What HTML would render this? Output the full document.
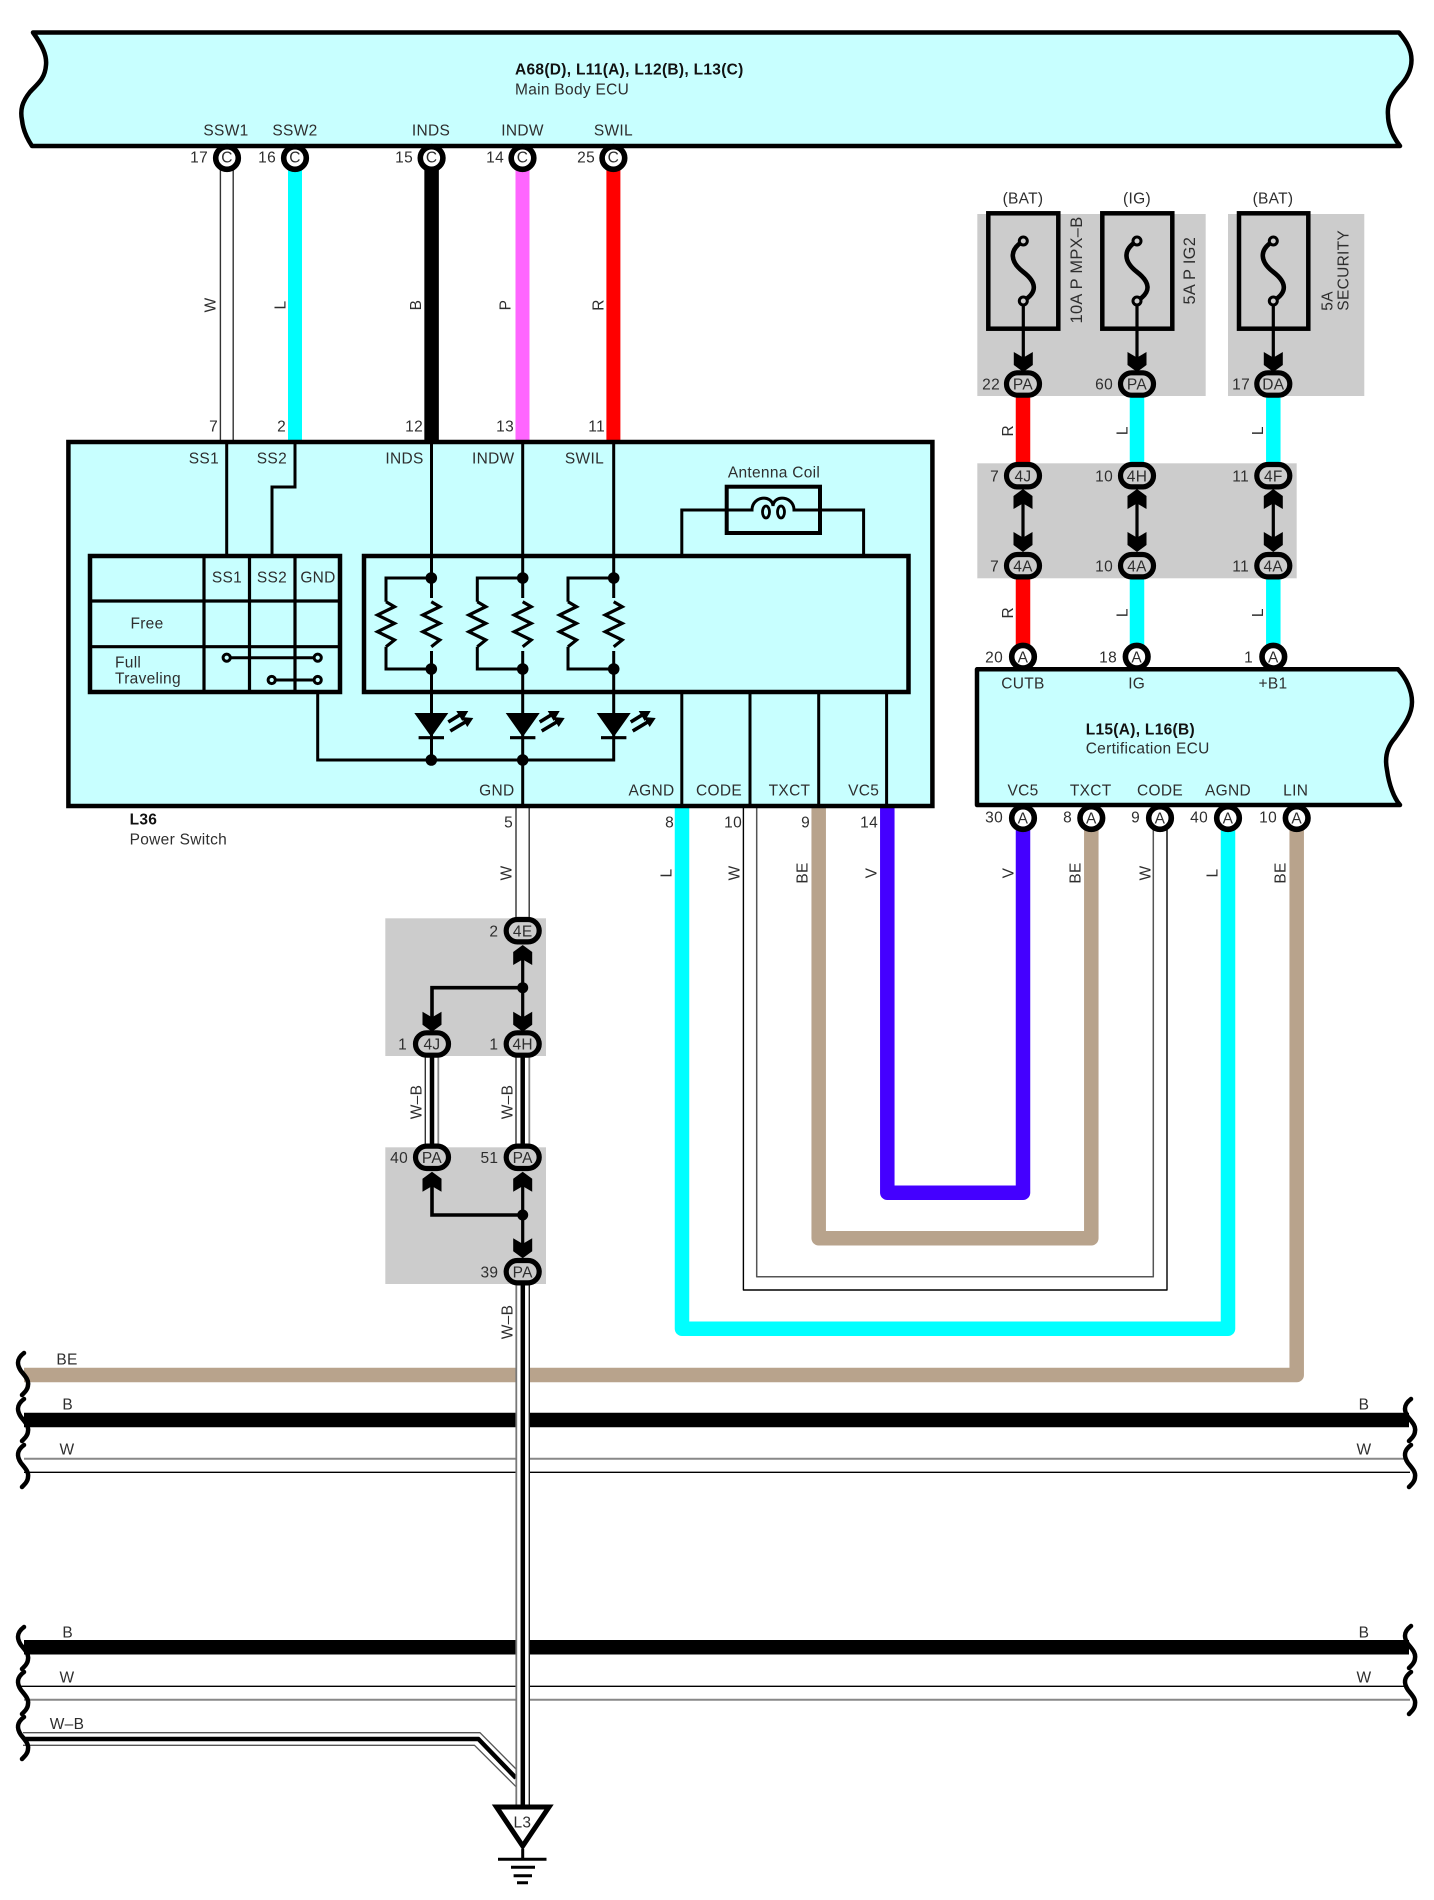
<!DOCTYPE html>
<html><head><meta charset="utf-8"><title>Wiring diagram</title>
<style>
html,body{margin:0;padding:0;background:#fff}
svg{display:block}
text{font-family:"Liberation Sans",sans-serif;font-size:15.5px;letter-spacing:.3px;fill:#2e2e2e;dominant-baseline:central}
text:not([transform]){transform:translateY(1.1px)}
.e{text-anchor:end}.m{text-anchor:middle}.b{font-weight:bold;fill:#111}
.f{font-size:16.4px}
.w{fill:none;stroke-linejoin:round;stroke-linecap:butt}
.k{fill:none;stroke:#000;stroke-width:3;stroke-linejoin:miter}
.t{fill:none;stroke:#000;stroke-width:4.5}
.c{fill:#fff;stroke:#000;stroke-width:5.6}
.o{fill:#ccc;stroke:#000;stroke-width:5.2}
</style></head><body>
<svg width="1434" height="1900" viewBox="0 0 1434 1900" xmlns="http://www.w3.org/2000/svg">
<defs>
<polygon id="ad" points="0,0 9.5,-7 9.5,-20 1,-15 -1,-15 -9.5,-20 -9.5,-7" fill="#000"/>
<polygon id="au" points="0,0 9.5,7 9.5,20 1,15 -1,15 -9.5,20 -9.5,7" fill="#000"/>
<path id="sq" d="M23 0C15 6 16 12 20 18C24 23 28 27 27 32C27 36 24 39 21 42" fill="none" stroke="#000" stroke-width="4.5" stroke-linecap="round"/>
<polyline id="rz" points="0,0 8.5,5 -8.5,13.3 8.5,21.7 -8.5,30 8.5,38.3 0,45" fill="none" stroke="#000" stroke-width="3.2" stroke-linejoin="miter"/>
<g id="led">
<polygon points="-17,0 17,0 0,24" fill="#000"/>
<path d="M-12.7 24.7H12.7" stroke="#000" stroke-width="3.2"/>
<path d="M17 9L30 1M19 18L34 9" stroke="#000" stroke-width="3.6"/>
<polygon points="37,-2 25,-2 31,8" fill="#000"/>
<polygon points="42,5 30,4 36,14" fill="#000"/>
</g>
<path id="fz" d="M0 0C-15 9 -13 21 0 31C13 41 15 51 0 60" fill="none" stroke="#000" stroke-width="4.6"/>
</defs>
<rect width="1434" height="1900" fill="#fff"/>

<!-- gray zones -->
<g fill="#ccc">
<rect x="977.3" y="214" width="228.4" height="182"/>
<rect x="1228" y="214" width="136.3" height="182"/>
<rect x="977.3" y="463.3" width="319.4" height="115"/>
<rect x="385.3" y="918.3" width="160.7" height="137.7"/>
<rect x="385.3" y="1147.3" width="160.7" height="136.7"/>
</g>

<!-- top wires -->
<g class="w">
<path d="M220.4 170V441M233.2 170V441" stroke="#333" stroke-width="1.4"/>
<path d="M295 170V441" stroke="#00ffff" stroke-width="14"/>
<path d="M431.6 170V441" stroke="#000" stroke-width="14.5" stroke-linecap="round"/>
<path d="M522.5 170V441" stroke="#ff66ff" stroke-width="14"/>
<path d="M613.4 170V441" stroke="#ff0000" stroke-width="14"/>
<path d="M1023 396V464M1023 578V645" stroke="#ff0000" stroke-width="14.5"/>
<path d="M1137 396V464M1137 578V645M1273.3 396V464M1273.3 578V645" stroke="#00ffff" stroke-width="14.5"/>
</g>

<!-- buses -->
<g class="w">
<path d="M24 1420H1409" stroke="#000" stroke-width="14.5"/>
<path d="M24 1458.7H1406" stroke="#888" stroke-width="2"/>
<path d="M24 1472.3H1410" stroke="#000" stroke-width="1.4"/>
<path d="M24 1647.3H1409" stroke="#000" stroke-width="14.5"/>
<path d="M20 1686.3H1406" stroke="#000" stroke-width="1.4"/>
<path d="M24 1699.7H1410" stroke="#888" stroke-width="2"/>
<path d="M23 1732.7H480L516 1769" stroke="#555" stroke-width="1.3"/>
<path d="M23 1739H478.4L516 1778" stroke="#000" stroke-width="4.5"/>
<path d="M23 1745.3H474.5L516 1786.7" stroke="#555" stroke-width="1.3"/>
</g>

<!-- lower harness -->
<g class="w">
<path d="M682 806V1328.7H1228V830" stroke="#00ffff" stroke-width="14.5"/>
<path d="M743.4 806V1290H1167V830" stroke="#000" stroke-width="1.4"/>
<path d="M756.7 806V1276.7H1153.3V830" stroke="#555" stroke-width="1.5"/>
<path d="M818.7 806V1238.3H1091.3V830" stroke="#b8a38c" stroke-width="14.5"/>
<path d="M887.3 806V1192.7H1023V830" stroke="#4400ff" stroke-width="14.5"/>
<path d="M1296.7 830V1375H24" stroke="#b8a38c" stroke-width="14.5"/>
</g>

<!-- trunk -->
<rect x="516.3" y="806" width="13" height="113" fill="#fff"/>
<path d="M516 806V920M529.2 806V920" stroke="#333" stroke-width="1.4"/>
<rect x="516.3" y="1285" width="13" height="522" fill="#fff"/>
<path d="M516.3 1285V1807" stroke="#777" stroke-width="1.8"/>
<path d="M529.3 1285V1807" stroke="#222" stroke-width="1.4"/>
<path d="M522.8 1285V1807" stroke="#000" stroke-width="4.5"/>
<g class="w">
<path d="M425.3 1056V1147M516 1056V1147" stroke="#333" stroke-width="1.4"/>
<path d="M438.3 1056V1147M529.3 1056V1147" stroke="#888" stroke-width="1.8"/>
<path d="M432 1056V1147M522.7 1056V1147" stroke="#000" stroke-width="4.5"/>
</g>

<!-- banner -->
<path d="M33 32.5H1399C1407 42 1411.5 50 1411.5 60C1411.5 72 1404 82 1398 88C1391 96 1387 105 1388 115C1388 127 1394 138 1400 146H32C28 140 23 130 22 120C20 110 22 102 30 92C36 85 45 80 46 65C47 55 42 45 33 32.5Z" fill="#c8ffff" stroke="#000" stroke-width="4.5" stroke-linejoin="round"/>
<text class="b" x="515" y="69">A68(D), L11(A), L12(B), L13(C)</text>
<text x="515" y="89">Main Body ECU</text>
<text class="m" x="226" y="130">SSW1</text>
<text class="m" x="295" y="130">SSW2</text>
<text class="m" x="431" y="130">INDS</text>
<text class="m" x="522.5" y="130">INDW</text>
<text class="m" x="613.4" y="130">SWIL</text>

<!-- top connectors -->
<circle class="c" cx="227" cy="158" r="11.3"/>
<circle class="c" cx="295" cy="158" r="11.3"/>
<circle class="c" cx="431.6" cy="158" r="11.3"/>
<circle class="c" cx="522.5" cy="158" r="11.3"/>
<circle class="c" cx="613.4" cy="158" r="11.3"/>
<text class="m" x="227" y="157">C</text><text class="m" x="295" y="157">C</text><text class="m" x="431.6" y="157">C</text><text class="m" x="522.5" y="157">C</text><text class="m" x="613.4" y="157">C</text>
<text class="e" x="208" y="157">17</text><text class="e" x="276" y="157">16</text><text class="e" x="413" y="157">15</text><text class="e" x="504" y="157">14</text><text class="e" x="595" y="157">25</text>
<text class="e" x="218" y="426">7</text><text class="e" x="286" y="426">2</text><text class="e" x="423" y="426">12</text><text class="e" x="514" y="426">13</text><text class="e" x="605" y="426">11</text>
<text class="m" dy="1.2" transform="translate(210,305) rotate(-90)">W</text>
<text class="m" dy="1.2" transform="translate(280,305) rotate(-90)">L</text>
<text class="m" dy="1.2" transform="translate(415.5,305) rotate(-90)">B</text>
<text class="m" dy="1.2" transform="translate(505,305) rotate(-90)">P</text>
<text class="m" dy="1.2" transform="translate(598,305) rotate(-90)">R</text>

<!-- L36 box -->
<rect x="68.4" y="442" width="864" height="364" fill="#c8ffff" stroke="#000" stroke-width="4.5"/>
<path class="k" d="M226.7 442V556M295 442V487H272V556M431.5 442V760M522.7 442V806M613.7 442V760H317.7V692"/>
<path class="k" d="M681.8 555V510H726.7M820 510H863.6V555"/>
<rect x="726.7" y="486.7" width="93.3" height="46.3" fill="none" stroke="#000" stroke-width="4"/>
<path class="k" d="M726.7 510H752C752 496 772 494 773 506C774 494 794 496 794 510H820"/>
<ellipse cx="766" cy="512" rx="3.5" ry="6" fill="none" stroke="#000" stroke-width="2.8"/>
<ellipse cx="781" cy="512" rx="3.5" ry="6" fill="none" stroke="#000" stroke-width="2.8"/>
<text class="m" x="774" y="472">Antenna Coil</text>
<text class="e" x="219" y="458">SS1</text><text class="e" x="287" y="458">SS2</text><text class="e" x="423.6" y="458">INDS</text><text class="e" x="514.5" y="458">INDW</text><text class="e" x="604" y="458">SWIL</text>
<text class="e" x="514.5" y="790">GND</text><text class="e" x="674.5" y="790">AGND</text><text class="m" x="719" y="790">CODE</text><text class="m" x="789.5" y="790">TXCT</text><text class="m" x="863.6" y="790">VC5</text>
<path class="k" d="M681.8 692V806M750 692V806M818.7 692V806M886.6 692V806"/>

<!-- left table -->
<rect x="90" y="556" width="250" height="136" fill="none" stroke="#000" stroke-width="4.5"/>
<path d="M204 556V692M249.5 556V692M295 556V692M90 601H340M90 646.7H340" stroke="#000" stroke-width="3.2" fill="none"/>
<text class="m" x="227" y="577">SS1</text><text class="m" x="272" y="577">SS2</text><text class="m" x="318" y="577">GND</text>
<text class="m" x="147" y="623">Free</text><text x="115" y="662">Full</text><text x="115" y="678">Traveling</text>
<path d="M226.7 657.7H317.7M271.7 680H317.7" stroke="#000" stroke-width="3"/>
<g fill="#c8ffff" stroke="#000" stroke-width="3"><circle cx="226.7" cy="657.7" r="3.6"/><circle cx="317.7" cy="657.7" r="3.6"/><circle cx="271.7" cy="680" r="3.6"/><circle cx="317.7" cy="680" r="3.6"/></g>

<!-- right block -->
<rect x="364" y="556" width="544.5" height="136" fill="none" stroke="#000" stroke-width="4.5"/>
<g class="k">
<path d="M431.3 578H386V601.7M386 646.7V669H431.3M522.7 578H477.3V601.7M477.3 646.7V669H522.7M613.7 578H568V601.7M568 646.7V669H613.7"/>
</g>
<rect x="420" y="598" width="23" height="53" fill="#c8ffff"/><rect x="511.5" y="598" width="23" height="53" fill="#c8ffff"/><rect x="602.5" y="598" width="23" height="53" fill="#c8ffff"/>
<use href="#rz" x="431.3" y="601.7"/><use href="#rz" x="386" y="601.7"/><use href="#rz" x="522.7" y="601.7"/><use href="#rz" x="477.3" y="601.7"/><use href="#rz" x="613.7" y="601.7"/><use href="#rz" x="568" y="601.7"/>
<use href="#led" x="431.3" y="713"/><use href="#led" x="522.7" y="713"/><use href="#led" x="613.7" y="713"/>
<g fill="#000">
<circle cx="431.3" cy="578" r="5.8"/><circle cx="522.7" cy="578" r="5.8"/><circle cx="613.7" cy="578" r="5.8"/>
<circle cx="431.3" cy="669" r="5.8"/><circle cx="522.7" cy="669" r="5.8"/><circle cx="613.7" cy="669" r="5.8"/>
<circle cx="431.3" cy="760" r="5.8"/><circle cx="522.7" cy="760" r="5.8"/>
</g>
<text class="b" x="129.6" y="819">L36</text>
<text x="129.6" y="839">Power Switch</text>
<text class="e" x="513" y="822">5</text><text class="e" x="674" y="822">8</text><text class="e" x="742" y="822">10</text><text class="e" x="810" y="822">9</text><text class="e" x="878" y="822">14</text>
<text class="m" dy="1.2" transform="translate(506,873) rotate(-90)">W</text>
<text class="m" dy="1.2" transform="translate(666,873) rotate(-90)">L</text>
<text class="m" dy="1.2" transform="translate(734,873) rotate(-90)">W</text>
<text class="m" dy="1.2" transform="translate(802,873) rotate(-90)">BE</text>
<text class="m" dy="1.2" transform="translate(871,873) rotate(-90)">V</text>

<!-- fuses -->
<g fill="none" stroke="#000" stroke-width="4.5">
<rect x="988.3" y="213.3" width="70" height="115.4"/>
<rect x="1102.3" y="213.3" width="70" height="115.4"/>
<rect x="1239" y="213.3" width="69.3" height="115.4"/>
</g>
<use href="#fz" x="1023.3" y="241"/><use href="#fz" x="1137" y="241"/><use href="#fz" x="1273.3" y="241"/>
<path d="M1023.3 301V360M1137 301V360M1273.3 301V360" stroke="#000" stroke-width="3.2"/>
<g fill="#ccc" stroke="#000" stroke-width="3">
<circle cx="1023.3" cy="241" r="4"/><circle cx="1023.3" cy="301" r="4"/><circle cx="1137" cy="241" r="4"/><circle cx="1137" cy="301" r="4"/><circle cx="1273.3" cy="241" r="4"/><circle cx="1273.3" cy="301" r="4"/>
</g>
<use href="#ad" x="1023.3" y="372"/><use href="#ad" x="1137" y="372"/><use href="#ad" x="1273.3" y="372"/>
<text class="m" x="1023" y="198">(BAT)</text><text class="m" x="1137" y="198">(IG)</text><text class="m" x="1273" y="198">(BAT)</text>
<text class="m f" dy="1.2" transform="translate(1075.7,270) rotate(-90)">10A P MPX–B</text>
<text class="m f" dy="1.2" transform="translate(1189,270.7) rotate(-90)">5A P IG2</text>
<text dy="1.2" transform="translate(1326.7,310.7) rotate(-90)">5A</text>
<text dy="1.2" transform="translate(1343,310.7) rotate(-90)">SECURITY</text>

<!-- right ovals -->
<path d="M1023 495V545M1137 495V545M1273.3 495V545" stroke="#000" stroke-width="3.2"/>
<use href="#au" x="1023" y="489"/><use href="#au" x="1137" y="489"/><use href="#au" x="1273.3" y="489"/>
<use href="#ad" x="1023" y="552"/><use href="#ad" x="1137" y="552"/><use href="#ad" x="1273.3" y="552"/>
<g class="o">
<rect x="1006.5" y="372.8" width="33" height="22.4" rx="11.2"/><rect x="1120.5" y="372.8" width="33" height="22.4" rx="11.2"/><rect x="1256.8" y="372.8" width="33" height="22.4" rx="11.2"/>
<rect x="1006.5" y="464.5" width="33" height="22.4" rx="11.2"/><rect x="1120.5" y="464.5" width="33" height="22.4" rx="11.2"/><rect x="1256.8" y="464.5" width="33" height="22.4" rx="11.2"/>
<rect x="1006.5" y="554.5" width="33" height="22.4" rx="11.2"/><rect x="1120.5" y="554.5" width="33" height="22.4" rx="11.2"/><rect x="1256.8" y="554.5" width="33" height="22.4" rx="11.2"/>
</g>
<text class="m" x="1023" y="384">PA</text><text class="m" x="1137" y="384">PA</text><text class="m" x="1273.3" y="384">DA</text>
<text class="m" x="1023" y="475.7">4J</text><text class="m" x="1137" y="475.7">4H</text><text class="m" x="1273.3" y="475.7">4F</text>
<text class="m" x="1023" y="565.7">4A</text><text class="m" x="1137" y="565.7">4A</text><text class="m" x="1273.3" y="565.7">4A</text>
<text class="e" x="1000" y="384">22</text><text class="e" x="1113" y="384">60</text><text class="e" x="1250" y="384">17</text>
<text class="e" x="999" y="475.7">7</text><text class="e" x="1113" y="475.7">10</text><text class="e" x="1249" y="475.7">11</text>
<text class="e" x="999" y="565.7">7</text><text class="e" x="1113" y="565.7">10</text><text class="e" x="1249" y="565.7">11</text>
<text class="m" dy="1.2" transform="translate(1007.3,430.7) rotate(-90)">R</text><text class="m" dy="1.2" transform="translate(1121.7,430.7) rotate(-90)">L</text><text class="m" dy="1.2" transform="translate(1257.3,430.7) rotate(-90)">L</text>
<text class="m" dy="1.2" transform="translate(1007.3,612.7) rotate(-90)">R</text><text class="m" dy="1.2" transform="translate(1121.7,612.7) rotate(-90)">L</text><text class="m" dy="1.2" transform="translate(1257.3,612.7) rotate(-90)">L</text>

<!-- ECU -->
<path d="M977 669.3H1398C1406 678 1412 690 1412 702C1412 716 1402 728 1395 738C1386 748 1385 760 1387 770C1389 785 1394 798 1400 805H977Z" fill="#c8ffff" stroke="#000" stroke-width="4.5" stroke-linejoin="round"/>
<circle class="c" cx="1023" cy="656.7" r="11.3"/><circle class="c" cx="1136.7" cy="656.7" r="11.3"/><circle class="c" cx="1273.3" cy="656.7" r="11.3"/>
<text class="m" x="1023" y="656.7">A</text><text class="m" x="1136.7" y="656.7">A</text><text class="m" x="1273.3" y="656.7">A</text>
<text class="e" x="1003" y="656.7">20</text><text class="e" x="1117" y="656.7">18</text><text class="e" x="1253" y="656.7">1</text>
<text class="m" x="1023" y="683">CUTB</text><text class="m" x="1136.7" y="683">IG</text><text class="m" x="1273" y="683">+B1</text>
<text class="b" x="1085.7" y="729">L15(A), L16(B)</text><text x="1085.7" y="747.7">Certification ECU</text>
<text class="m" x="1023" y="790">VC5</text><text class="m" x="1090.7" y="790">TXCT</text><text class="m" x="1160" y="790">CODE</text><text class="m" x="1228" y="790">AGND</text><text class="m" x="1295.7" y="790">LIN</text>
<circle class="c" cx="1023" cy="818" r="11.3"/><circle class="c" cx="1091.3" cy="818" r="11.3"/><circle class="c" cx="1160" cy="818" r="11.3"/><circle class="c" cx="1228" cy="818" r="11.3"/><circle class="c" cx="1296.7" cy="818" r="11.3"/>
<text class="m" x="1023" y="818">A</text><text class="m" x="1091.3" y="818">A</text><text class="m" x="1160" y="818">A</text><text class="m" x="1228" y="818">A</text><text class="m" x="1296.7" y="818">A</text>
<text class="e" x="1003" y="817">30</text><text class="e" x="1072" y="817">8</text><text class="e" x="1140" y="817">9</text><text class="e" x="1208" y="817">40</text><text class="e" x="1277" y="817">10</text>
<text class="m" dy="1.2" transform="translate(1008,873) rotate(-90)">V</text>
<text class="m" dy="1.2" transform="translate(1075,873) rotate(-90)">BE</text>
<text class="m" dy="1.2" transform="translate(1145,873) rotate(-90)">W</text>
<text class="m" dy="1.2" transform="translate(1211.7,873) rotate(-90)">L</text>
<text class="m" dy="1.2" transform="translate(1280,873) rotate(-90)">BE</text>

<!-- junction block -->
<path d="M522.7 950V1030M522.7 1177V1250" stroke="#000" stroke-width="3.2"/>
<path d="M522.7 987.7H432V1020M522.7 1215H432V1182" fill="none" stroke="#000" stroke-width="3.6"/>
<circle cx="522.7" cy="987.7" r="5.5"/><circle cx="522.7" cy="1215" r="5.5"/>
<use href="#au" x="522.7" y="945"/><use href="#ad" x="522.7" y="1031.7"/><use href="#ad" x="432" y="1031.7"/>
<use href="#au" x="522.7" y="1171.7"/><use href="#au" x="432" y="1171.7"/><use href="#ad" x="522.7" y="1258.3"/>
<g class="o">
<rect x="506.2" y="919.5" width="33" height="22.4" rx="11.2"/>
<rect x="506.2" y="1032.8" width="33" height="22.4" rx="11.2"/>
<rect x="415.5" y="1032.8" width="33" height="22.4" rx="11.2"/>
<rect x="506.2" y="1146.1" width="33" height="22.4" rx="11.2"/>
<rect x="415.5" y="1146.1" width="33" height="22.4" rx="11.2"/>
<rect x="506.2" y="1260.5" width="33" height="22.4" rx="11.2"/>
</g>
<text class="m" x="522.7" y="930.7">4E</text><text class="m" x="522.7" y="1044">4H</text><text class="m" x="432" y="1044">4J</text><text class="m" x="522.7" y="1157.3">PA</text><text class="m" x="432" y="1157.3">PA</text><text class="m" x="522.7" y="1271.7">PA</text>
<text class="e" x="498.3" y="930.7">2</text><text class="e" x="407" y="1044">1</text><text class="e" x="498.3" y="1044">1</text><text class="e" x="408" y="1157.3">40</text><text class="e" x="498.3" y="1157.3">51</text><text class="e" x="498.3" y="1271.7">39</text>
<text class="m" dy="1.2" transform="translate(416,1102) rotate(-90)">W–B</text>
<text class="m" dy="1.2" transform="translate(506.7,1102) rotate(-90)">W–B</text>
<text class="m" dy="1.2" transform="translate(506.7,1322) rotate(-90)">W–B</text>

<!-- bus squiggles and labels -->
<use href="#sq" x="1" y="1353"/><use href="#sq" x="1" y="1399"/><use href="#sq" x="1" y="1445"/>
<use href="#sq" x="1" y="1627"/><use href="#sq" x="1" y="1672"/><use href="#sq" x="1" y="1717"/>
<use href="#sq" x="1388" y="1399"/><use href="#sq" x="1388" y="1445"/><use href="#sq" x="1388" y="1626"/><use href="#sq" x="1388" y="1672"/>
<text class="m" x="67" y="1359">BE</text><text class="m" x="67.7" y="1404">B</text><text class="m" x="67" y="1449">W</text>
<text class="m" x="67.7" y="1631.7">B</text><text class="m" x="67" y="1676.7">W</text><text class="m" x="67" y="1723.3">W–B</text>
<text class="m" x="1364" y="1404">B</text><text class="m" x="1364" y="1449">W</text><text class="m" x="1364" y="1631.7">B</text><text class="m" x="1364" y="1676.7">W</text>

<!-- ground -->
<polygon points="496.5,1807 549,1807 522.7,1846" fill="#fff" stroke="#000" stroke-width="5" stroke-linejoin="miter"/>
<text class="m" x="522.4" y="1821.7">L3</text>
<path d="M522.7 1849V1859.3" stroke="#000" stroke-width="3"/>
<path d="M498 1859.3H546.5M511 1867.3H535M513.6 1875.7H532M517 1882.7H528" stroke="#000" stroke-width="3"/>
</svg>
</body></html>
